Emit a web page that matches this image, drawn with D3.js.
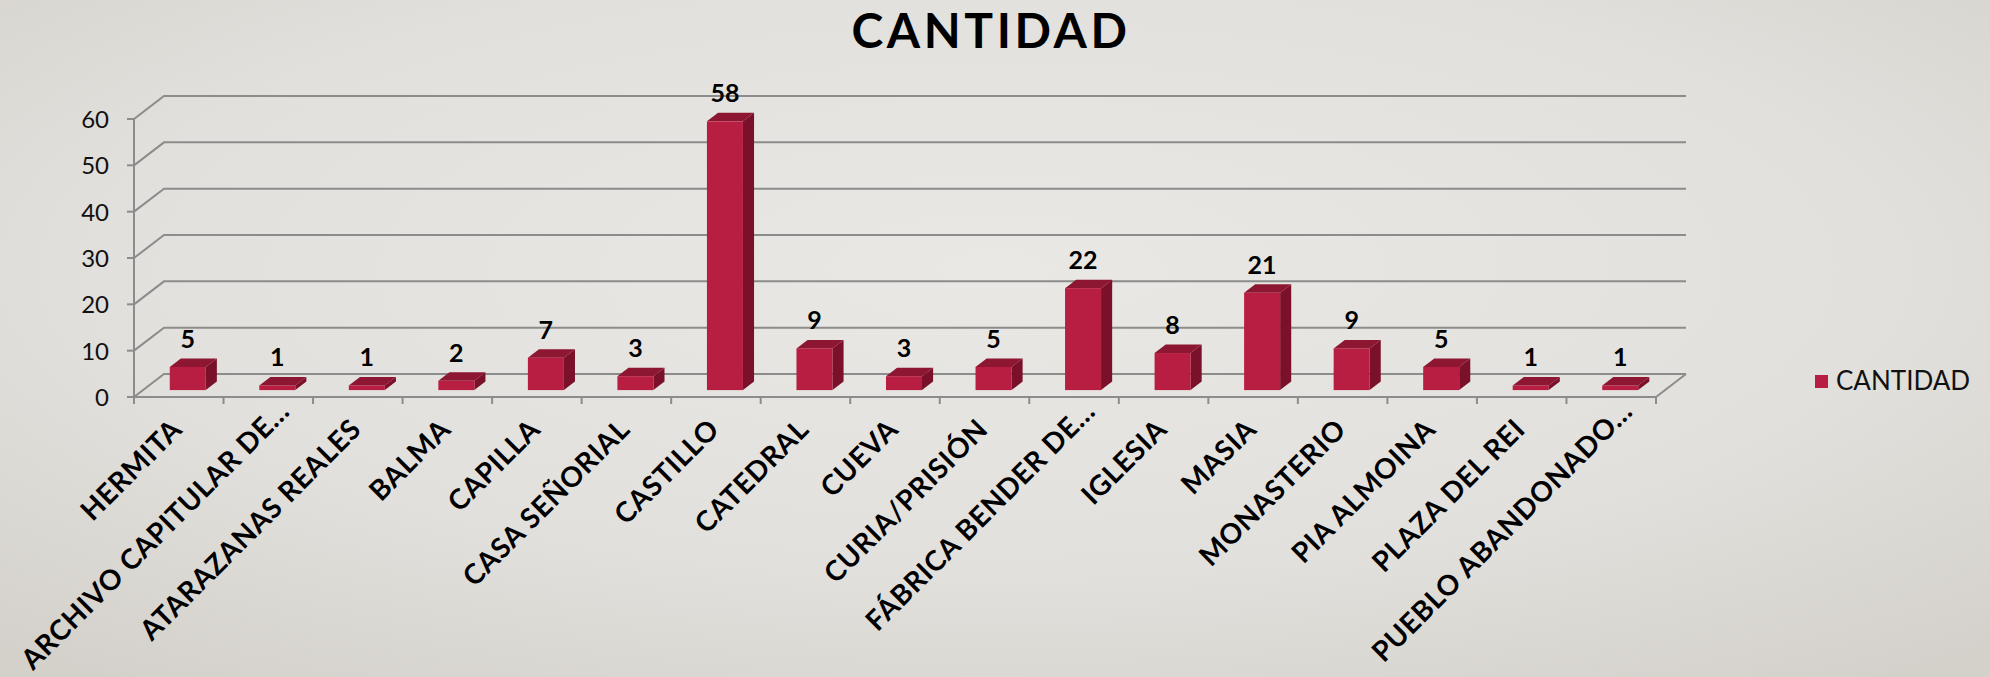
<!DOCTYPE html>
<html><head><meta charset="utf-8">
<script src="https://cdn.jsdelivr.net/npm/d3@7"></script>
<style>html,body{margin:0;padding:0;overflow:hidden;background:#dedcd7}</style>
</head><body>
<svg id="c" width="1990" height="677"></svg>
<script>
const categories = ["HERMITA","ARCHIVO CAPITULAR DE…","ATARAZANAS REALES","BALMA","CAPILLA","CASA SEÑORIAL","CASTILLO","CATEDRAL","CUEVA","CURIA/PRISIÓN","FÁBRICA BENDER DE…","IGLESIA","MASIA","MONASTERIO","PIA ALMOINA","PLAZA DEL REI","PUEBLO ABANDONADO…"];
const values = [5,1,1,2,7,3,58,9,3,5,22,8,21,9,5,1,1];
const yTicks = [0,10,20,30,40,50,60];
const seriesName = "CANTIDAD";
const title = "CANTIDAD";

const W = 1990, H = 677;
const svg = d3.select("#c");
const FONT = "Lato, 'Open Sans', sans-serif";

// background
const defs = svg.append("defs");
const rg = defs.append("radialGradient").attr("id","bg").attr("cx","50%").attr("cy","40%").attr("r","75%");
rg.append("stop").attr("offset","0%").attr("stop-color","#e9e8e4");
rg.append("stop").attr("offset","60%").attr("stop-color","#e2e0dc");
rg.append("stop").attr("offset","100%").attr("stop-color","#d4d1cb");
svg.append("rect").attr("width",W).attr("height",H).attr("fill","url(#bg)");

const x = d3.scaleBand().domain(categories).range([134,1656]).padding(0);
const y = d3.scaleLinear().domain([0,60]).range([397,119]);
const dX = 30, dY = -23;        // depth of the floor/back wall
const f0 = 0.3, f1 = 0.67;      // bar depth position fraction
const barW = 36;
const gridColor = "#8c8c8c";

const g = svg.append("g");
// gridlines (left wall diagonal + back wall horizontal)
g.selectAll("path.grid").data(yTicks).join("path")
  .attr("class","grid")
  .attr("d", v => `M${x.range()[0]},${y(v)} L${x.range()[0]+dX},${y(v)+dY} L${x.range()[1]+dX},${y(v)+dY}`)
  .attr("fill","none").attr("stroke",gridColor).attr("stroke-width",2);
// floor front + right side
g.append("path")
  .attr("d", `M${x.range()[0]},${y(0)} L${x.range()[1]},${y(0)} L${x.range()[1]+dX},${y(0)+dY}`)
  .attr("fill","none").attr("stroke",gridColor).attr("stroke-width",2);
// y axis line
g.append("line").attr("x1",x.range()[0]).attr("x2",x.range()[0]).attr("y1",y(0)).attr("y2",y(60))
  .attr("stroke",gridColor).attr("stroke-width",2);
// y ticks
g.selectAll("line.yt").data(yTicks).join("line").attr("class","yt")
  .attr("x1",x.range()[0]-7).attr("x2",x.range()[0]).attr("y1",d=>y(d)).attr("y2",d=>y(d))
  .attr("stroke",gridColor).attr("stroke-width",2);
g.selectAll("text.yl").data(yTicks).join("text").attr("class","yl")
  .attr("x",109).attr("y",d=>y(d)+9)
  .attr("text-anchor","end").attr("font-family",FONT).attr("font-size",24).attr("fill","#111")
  .text(d=>d);
// x ticks
const bounds = categories.map(c=>x(c)).concat([x.range()[1]]);
g.selectAll("line.xt").data(bounds).join("line").attr("class","xt")
  .attr("x1",d=>d).attr("x2",d=>d).attr("y1",y(0)).attr("y2",y(0)+7)
  .attr("stroke",gridColor).attr("stroke-width",2);

// bars
const bars = g.selectAll("g.bar").data(categories.map((c,i)=>({c,v:values[i]}))).join("g").attr("class","bar");
const geom = d => {
  const cx = x(d.c) + x.bandwidth()/2 + f0*dX;
  const x0 = cx - barW/2, x1 = cx + barW/2;
  const yb = y(0) + f0*dY, yt = y(d.v) + f0*dY;
  const ddx = (f1-f0)*dX, ddy = (f1-f0)*dY;
  return {cx,x0,x1,yb,yt,ddx,ddy};
};
bars.append("path").attr("d", d=>{const q=geom(d);
  return `M${q.x1},${q.yt} L${q.x1+q.ddx},${q.yt+q.ddy} L${q.x1+q.ddx},${q.yb+q.ddy} L${q.x1},${q.yb} Z`;})
  .attr("fill","#7a1029");
bars.append("path").attr("d", d=>{const q=geom(d);
  return `M${q.x0},${q.yt} L${q.x1},${q.yt} L${q.x1+q.ddx},${q.yt+q.ddy} L${q.x0+q.ddx},${q.yt+q.ddy} Z`;})
  .attr("fill","#8d1632");
bars.append("rect").attr("x",d=>geom(d).x0).attr("y",d=>geom(d).yt)
  .attr("width",barW).attr("height",d=>geom(d).yb-geom(d).yt).attr("fill","#b81d42");
bars.append("text").attr("x",d=>geom(d).cx).attr("y",d=>geom(d).yt-19)
  .attr("text-anchor","middle").attr("font-family",FONT).attr("font-weight","bold")
  .attr("font-size",25).attr("fill","#000").text(d=>d.v);

// x labels
g.selectAll("text.xl").data(categories).join("text").attr("class","xl")
  .attr("transform", c => {
    const e = c.endsWith("…") ? 18 : 0;
    return `translate(${x(c)+x.bandwidth()/2+5+e},${431-e}) rotate(-45)`;})
  .attr("text-anchor","end").attr("font-family",FONT).attr("font-weight","bold")
  .attr("font-size",28).attr("letter-spacing",0.6).attr("fill","#000").text(c=>c);

// title
svg.append("text").attr("x",991).attr("y",48).attr("text-anchor","middle")
  .attr("font-family",FONT).attr("font-weight","bold").attr("font-size",48)
  .attr("letter-spacing",3.6).attr("fill","#000").text(title);

// legend
svg.append("rect").attr("x",1815).attr("y",375).attr("width",13).attr("height",13).attr("fill","#b81d42");
svg.append("text").attr("x",1836).attr("y",390).attr("font-family",FONT).attr("font-size",26)
  .attr("fill","#111").text(seriesName);
</script>
</body></html>
